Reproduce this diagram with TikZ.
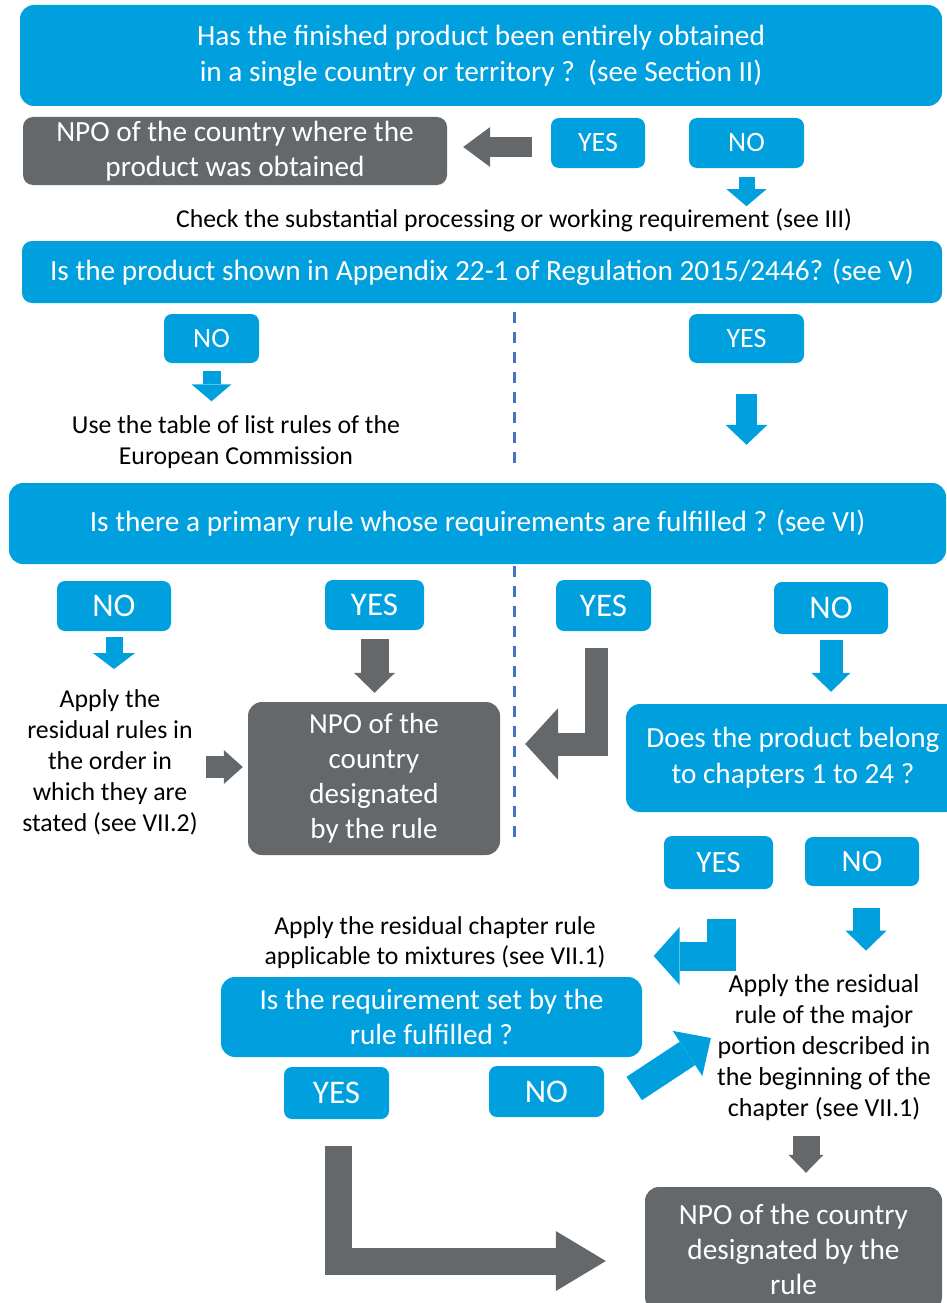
\documentclass[tikz,border=0pt]{standalone}
\usepackage{fontspec}
\setmainfont{Carlito}
\usetikzlibrary{arrows.meta}
\definecolor{qblue}{RGB}{0,160,223}
\definecolor{npogray}{RGB}{100,104,106}
\definecolor{divider}{RGB}{68,114,196}
\tikzset{
  q/.style={
    rectangle, fill=qblue, rounded corners=14pt, align=center, text=white,
    inner sep=0pt, font=\fontsize{29.3}{36}\selectfont
  },
  npo/.style={
    rectangle, fill=npogray, rounded corners=14pt, align=center, text=white,
    inner sep=0pt, font=\fontsize{29.3}{35}\selectfont
  },
  yn/.style={
    rectangle, fill=qblue, rounded corners=8pt, text=white, inner sep=0pt,
    font=\fontsize{28}{30}\selectfont
  },
  txt/.style={align=center, inner sep=0pt, font=\fontsize{25.8}{31}\selectfont},
  barrow/.style={draw=qblue, line join=miter},
  garrow/.style={draw=npogray, line join=miter},
  blk/.style 2 args={-{Triangle[width=#1,length=#2,line width=0pt]}},
  sep/.style={draw=divider, line width=3pt, dash pattern=on 11pt off 9pt}
}

\begin{document}
\begin{tikzpicture}[x=1pt, y=-1pt]
\useasboundingbox (0,0) rectangle (946,1303);
% questions and results
\node[q, minimum width=922pt, minimum height=101pt] (entire) at (481,55.5) {Has the finished product been entirely obtained\\in a single country or territory ?~~(see Section II)};
\node[npo, minimum width=424pt, minimum height=68pt, rounded corners=10pt] (npoobt) at (235,151) {NPO of the country where the\\product was obtained};
\node[yn, minimum width=94pt, minimum height=50pt] (yesA) at (598,143) {YES};
\node[yn, minimum width=115pt, minimum height=50pt] (noA) at (746.5,143) {NO};
\node[txt, font=\fontsize{25.7}{31}\selectfont] (check) at (514,220) {Check the substantial processing or working requirement (see III)};
\node[q, minimum width=920pt, minimum height=62pt, rounded corners=10pt] (appx) at (482,272) {Is the product shown in Appendix 22-1 of Regulation 2015/2446? (see V)};
\node[yn, minimum width=95pt, minimum height=49pt] (noB) at (211.5,338.5) {NO};
\node[yn, minimum width=115pt, minimum height=49pt] (yesB) at (746.5,338.5) {YES};
\node[txt] (table) at (236,442) {Use the table of list rules of the\\European Commission};
\node[q, minimum width=937pt, minimum height=81pt] (primary) at (477.5,523.5) {Is there a primary rule whose requirements are fulfilled ? (see VI)};
\node[yn, minimum width=114pt, minimum height=50pt, font=\fontsize{33}{35}\selectfont] (noC) at (114,606) {NO};
\node[yn, minimum width=99pt, minimum height=50pt, font=\fontsize{33}{35}\selectfont] (yesC) at (374.5,605) {YES};
\node[yn, minimum width=95pt, minimum height=51pt, font=\fontsize{33}{35}\selectfont] (yesD) at (603.5,605.5) {YES};
\node[yn, minimum width=114pt, minimum height=52pt, font=\fontsize{33}{35}\selectfont] (noD) at (831,608) {NO};
\node[txt] (residual) at (110,762) {Apply the\\residual rules in\\the order in\\which they are\\stated (see VII.2)};
\node[npo, minimum width=252pt, minimum height=153pt, font=\fontsize{29}{35}\selectfont] (npodes) at (374,778.5) {NPO of the\\country\\designated\\by the rule};
\node[q, minimum width=334pt, minimum height=108pt, font=\fontsize{29.2}{36}\selectfont] (chap) at (793,758) {Does the product belong\\to chapters 1 to 24 ?};
\node[yn, minimum width=109pt, minimum height=53pt, font=\fontsize{31}{33}\selectfont] (yesE) at (718.5,862.5) {YES};
\node[yn, minimum width=114pt, minimum height=49pt, font=\fontsize{31}{33}\selectfont] (noE) at (862,861.5) {NO};
\node[txt, font=\fontsize{25.7}{30}\selectfont] (mixture) at (435,943) {Apply the residual chapter rule\\applicable to mixtures (see VII.1)};
\node[q, minimum width=421pt, minimum height=80pt, font=\fontsize{29.2}{35}\selectfont] (reqt) at (431.5,1017) {Is the requirement set by the\\rule fulfilled ?};
\node[yn, minimum width=105pt, minimum height=52pt, font=\fontsize{33}{35}\selectfont] (yesF) at (336.5,1093) {YES};
\node[yn, minimum width=115pt, minimum height=51pt, font=\fontsize{33}{35}\selectfont] (noF) at (546.5,1091.5) {NO};
\node[txt, font=\fontsize{26}{31}\selectfont] (major) at (824,1048) {Apply the residual\\rule of the major\\portion described in\\the beginning of the\\chapter (see VII.1)};
\node[npo, minimum width=297pt, minimum height=124pt] (npofin) at (793.5,1249) {NPO of the country\\designated by the\\rule};
% dividers
\draw[sep] (514,312) -- (514,472);
\draw[sep] (514,566) -- (514,843);
% block arrows
\draw[garrow, line width=20pt, blk={40pt}{27pt}, shorten <=19pt, shorten >=16pt] ([yshift=-4pt]yesA.west) -- ([yshift=-4pt]yesA.west -| npoobt.east);
\draw[barrow, line width=16pt, blk={40pt}{17pt}, shorten <=9pt, shorten >=2pt] (noA.south) -- (noA.south |- check.north);
\draw[barrow, line width=18pt, blk={40pt}{17pt}, shorten <=8pt, shorten >=14pt] (noB.south) -- (noB.south |- table.north);
\draw[barrow, line width=21pt, blk={42pt}{20pt}, shorten <=31pt, shorten >=38pt] (yesB.south) -- (yesB.south |- primary.north);
\draw[barrow, line width=17pt, blk={42pt}{16pt}, shorten <=6pt, shorten >=20pt] (noC.south) -- (noC.south |- residual.north);
\draw[garrow, line width=28pt, blk={41pt}{20pt}, shorten <=9pt, shorten >=9pt] (yesC.south) -- (yesC.south |- npodes.north);
\draw[garrow, line width=22pt, blk={34pt}{19pt}, shorten <=8pt, shorten >=5pt] ([yshift=-5pt]residual.east) -- ([yshift=-5pt]residual.east -| npodes.west);
\draw[garrow, line width=23pt, blk={72pt}{33pt}, shorten <=17pt, shorten >=25pt] ([xshift=-7pt]yesD.south) |- ([yshift=34.5pt]npodes.east);
\draw[barrow, line width=23pt, blk={39pt}{19pt}, shorten <=6pt, shorten >=12pt] (noD.south) -- (noD.south |- chap.north);
\draw[barrow, line width=29pt, blk={58pt}{26pt}, shorten <=30pt, shorten >=48pt] ([xshift=3pt]yesE.south) |- ([yshift=-13pt]mixture.east);
\draw[barrow, line width=27pt, blk={41pt}{20pt}, shorten <=22pt, shorten >=24pt] ([xshift=4pt]noE.south) -- ([xshift=4pt]noE.south |- major.north);
\draw[barrow, line width=28pt, blk={54pt}{28pt}] ([xshift=30pt,yshift=3pt]noF.east) -- ([xshift=-6pt,yshift=10pt]major.west);
\draw[garrow, line width=27pt, blk={35pt}{18pt}, shorten <=15pt, shorten >=14pt] ([xshift=-18pt]major.south) -- ([xshift=-18pt]major.south |- npofin.north);
\draw[garrow, line width=27pt, blk={60pt}{50pt}, shorten <=27pt, shorten >=39pt] ([xshift=2pt]yesF.south) |- ([yshift=-12pt]npofin.west);
\end{tikzpicture}
\end{document}
